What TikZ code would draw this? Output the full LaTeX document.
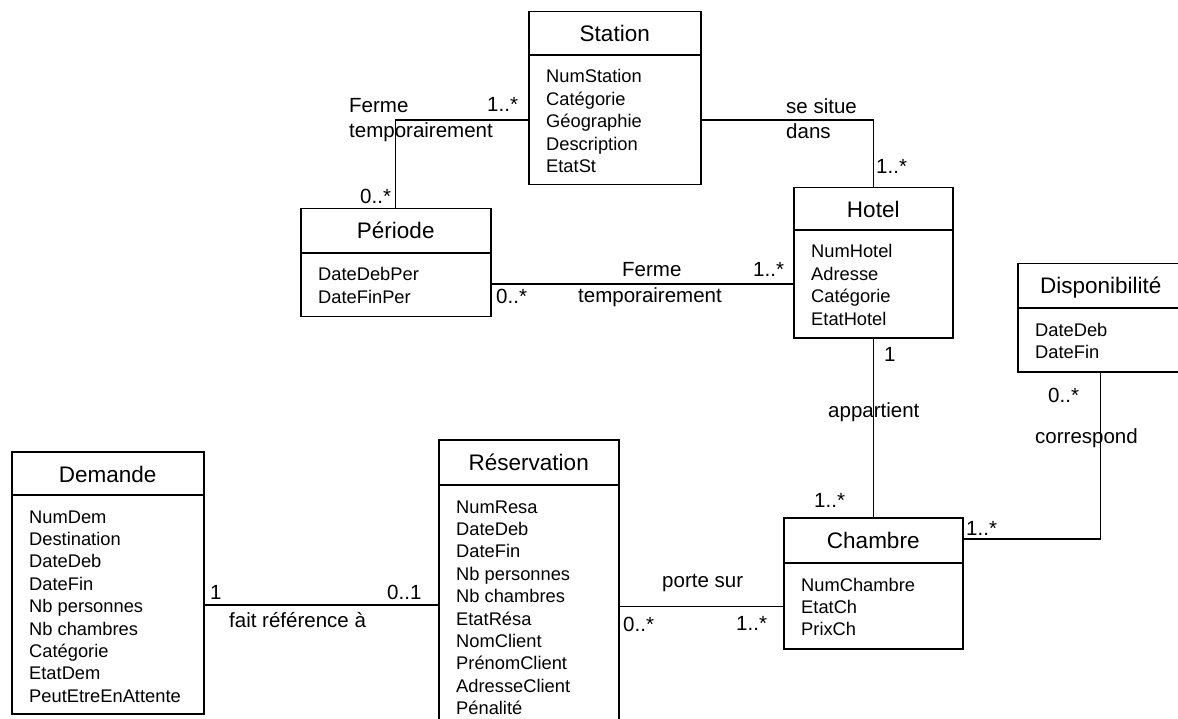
\documentclass[tikz,border=0pt]{standalone}
\usepackage{fontspec}
\setmainfont{Liberation Sans}
\usetikzlibrary{calc}
\tikzset{
  box/.style={draw, line width=1.5pt, inner sep=0pt, anchor=north west},
  boxline/.style={line width=1.5pt},
  ttl/.style={font=\fontsize{22.5}{27}\selectfont, anchor=base, inner sep=0pt},
  attr/.style={font=\fontsize{18.3}{22}\selectfont, anchor=base west, inner sep=0pt},
  lbl/.style={font=\fontsize{20.5}{24}\selectfont, anchor=base west, inner sep=0pt},
  conn/.style={line width=1.2pt}
}
% name, x, y, width, height, divider offset, title, attributes
\newcommand{\umlclass}[8]{%
  \node[box, minimum width=#4pt, minimum height=#5pt] (#1) at (#2,#3) {};
  \draw[boxline] ($(#1.north west)+(0,#6)$) -- ($(#1.north east)+(0,#6)$);
  \node[ttl] (#1-t) at ($(#1.north)+(0,31)$) {#7};
  \foreach \a [count=\i from 0] in {#8}
    \node[attr] (#1-a\i) at ($(#1.north west)+(18,#6+28+22.4*\i)$) {\a};
}
\begin{document}
\begin{tikzpicture}[x=1pt, y=-1pt]
\useasboundingbox (0,0) rectangle (1178,719);
\clip (0,0) rectangle (1178,719);

\umlclass{station}{528}{11}{172}{173}{44}{Station}{NumStation,Catégorie,Géographie,Description,EtatSt}
\umlclass{periode}{300}{208}{190}{108}{45}{Période}{DateDebPer,DateFinPer}
\umlclass{hotel}{793}{187}{159}{150}{43}{Hotel}{NumHotel,Adresse,Catégorie,EtatHotel}
\umlclass{dispo}{1017}{263}{166}{108}{45}{Disponibilité}{DateDeb,DateFin}
\umlclass{chambre}{783}{517}{179}{131}{46}{Chambre}{NumChambre,EtatCh,PrixCh}
\umlclass{demande}{11}{451}{192}{262}{44}{Demande}{NumDem,Destination,DateDeb,DateFin,Nb personnes,Nb chambres,Catégorie,EtatDem,PeutEtreEnAttente}
\umlclass{resa}{438}{439}{180}{290}{46}{Réservation}{NumResa,DateDeb,DateFin,Nb personnes,Nb chambres,EtatRésa,NomClient,PrénomClient,AdresseClient,Pénalité}

% connectors
\coordinate (c1) at ($(station.north west)+(0,109)$);
\draw[conn] (c1) -| (periode.north);
\coordinate (c2) at ($(station.north east)+(0,109)$);
\draw[conn] (c2) -| (hotel.north);
\coordinate (c3) at ($(periode.north east)+(0,76)$);
\draw[conn] (c3) -- (c3 -| hotel.west);
\draw[conn] (hotel.south) -- (chambre.north);
\coordinate (c5) at ($(chambre.north east)+(0,22)$);
\draw[conn] (dispo.south) |- (c5);
\coordinate (c6) at ($(demande.north east)+(0,154)$);
\draw[conn] (c6) -- (c6 -| resa.west);
\coordinate (c7) at ($(resa.north west)+(180,167.5)$);
\draw[conn] (c7) -- (c7 -| chambre.west);

% labels
\node[lbl] (l1a) at (349,113) {Ferme};
\node[lbl] (l1b) at (349,138) {temporairement};
\node[lbl] (l1c) at (487,112) {1..*};
\node[lbl] (l1d) at (360,204) {0..*};

\node[lbl] (l2a) at (786,114) {se situe};
\node[lbl] (l2b) at (786,139) {dans};
\node[lbl] (l2c) at (876,174) {1..*};

\node[lbl] (l3a) at (622,277) {Ferme};
\node[lbl] (l3b) at (578,303) {temporairement};
\node[lbl] (l3c) at (496,304) {0..*};
\node[lbl] (l3d) at (753,277) {1..*};

\node[lbl] (l4a) at (884,361) {1};
\node[lbl] (l4b) at (828,417) {appartient};
\node[lbl] (l4c) at (814,507) {1..*};

\node[lbl] (l5a) at (1048,402) {0..*};
\node[lbl] (l5b) at (1035,443) {correspond};
\node[lbl] (l5c) at (966,535) {1..*};

\node[lbl] (l6a) at (210,599) {1};
\node[lbl] (l6b) at (387,599) {0..1};
\node[lbl] (l6c) at (229,627) {fait référence à};

\node[lbl] (l7a) at (662,587) {porte sur};
\node[lbl] (l7b) at (623,631) {0..*};
\node[lbl] (l7c) at (736,630) {1..*};
\end{tikzpicture}
\end{document}
